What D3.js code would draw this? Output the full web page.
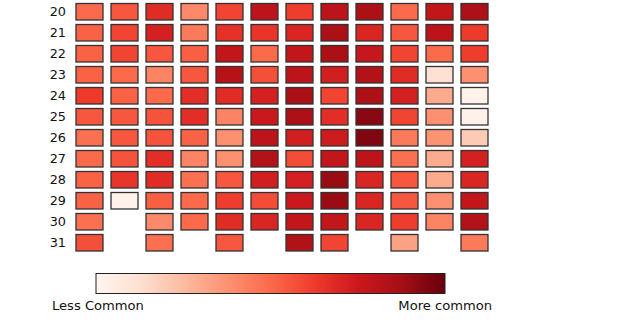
<!DOCTYPE html>
<html><head><meta charset="utf-8">
<script src="https://cdn.jsdelivr.net/npm/d3@7"></script>
<style>body{margin:0;background:#fff}svg{display:block}text{font-family:"DejaVu Sans",sans-serif}</style>
</head><body>
<svg id="c" width="633" height="322"></svg>
<script>
const days = [20,21,22,23,24,25,26,27,28,29,30,31];
const months = ["Jan","Feb","Mar","Apr","May","Jun","Jul","Aug","Sep","Oct","Nov","Dec"];
// frequency (0 = less common, 1 = more common); null = no such date
const d20 = [0.50,0.55,0.68,0.40,0.60,0.80,0.62,0.80,0.85,0.50,0.78,0.85];
const d21 = [0.52,0.60,0.72,0.45,0.66,0.65,0.70,0.86,0.70,0.55,0.80,0.63];
const d22 = [0.52,0.60,0.55,0.53,0.78,0.50,0.78,0.86,0.77,0.60,0.50,0.62];
const d23 = [0.52,0.50,0.42,0.55,0.82,0.57,0.80,0.73,0.83,0.68,0.12,0.38];
const d24 = [0.63,0.52,0.50,0.67,0.68,0.72,0.86,0.60,0.85,0.72,0.30,0.02];
const d25 = [0.55,0.55,0.56,0.67,0.42,0.75,0.85,0.67,0.93,0.60,0.38,0.03];
const d26 = [0.48,0.55,0.56,0.52,0.38,0.80,0.73,0.74,0.95,0.45,0.37,0.20];
const d27 = [0.50,0.56,0.67,0.42,0.38,0.83,0.58,0.78,0.80,0.48,0.30,0.72];
const d28 = [0.52,0.65,0.68,0.48,0.55,0.73,0.72,0.90,0.70,0.55,0.30,0.70];
const d29 = [0.52,0.02,0.53,0.50,0.62,0.58,0.75,0.90,0.70,0.55,0.38,0.78];
const d30 = [0.48,null,0.40,0.50,0.68,0.70,0.78,0.78,0.70,0.62,0.42,0.83];
const d31 = [0.57,null,0.48,null,0.55,null,0.84,0.60,null,0.33,null,0.45];
const rows = [d20,d21,d22,d23,d24,d25,d26,d27,d28,d29,d30,d31];
const legendLabels = ["Less Common","More common"];
const redsStops = ["#fff5f0","#fee0d2","#fcbba1","#fc9272","#fb6a4a","#ef3b2c","#cb181d","#a50f15","#67000d"];

const svg = d3.select("#c");
const x = d3.scaleBand().domain(months).range([76,488]).paddingInner(8/35);
const y = d3.scaleBand().domain(days).range([3.5,251]).paddingInner(4.5/21);
const color = d3.scaleLinear().domain(redsStops.map((_,i)=>i/(redsStops.length-1))).range(redsStops).clamp(true);

const cells = [];
rows.forEach((r,i)=>r.forEach((v,j)=>{ if(v!==null) cells.push({day:days[i],month:months[j],v}); }));

svg.append("g").selectAll("rect").data(cells).join("rect")
  .attr("x",d=>x(d.month)).attr("y",d=>y(d.day))
  .attr("width",x.bandwidth()).attr("height",y.bandwidth())
  .attr("fill",d=>color(d.v)).attr("stroke","#333").attr("stroke-width",1.3);

svg.append("g").selectAll("text").data(days).join("text")
  .attr("x",66).attr("y",d=>y(d)+y.bandwidth()/2).attr("dy","0.36em")
  .attr("text-anchor","end").attr("font-size",12.8).attr("fill","#111").text(d=>d);

// colorbar
const defs = svg.append("defs");
const grad = defs.append("linearGradient").attr("id","g");
redsStops.forEach((c,i)=>grad.append("stop").attr("offset",(i/(redsStops.length-1))*100+"%").attr("stop-color",c));
const cb = d3.scaleLinear().domain([0,1]).range([96,445]);
svg.append("rect").attr("x",cb(0)).attr("y",273.5).attr("width",cb(1)-cb(0)).attr("height",20)
  .attr("fill","url(#g)").attr("stroke","#222").attr("stroke-width",1);
svg.append("text").attr("x",52).attr("y",310).attr("font-size",13.1).attr("fill","#111").text(legendLabels[0]);
svg.append("text").attr("x",492).attr("y",310).attr("text-anchor","end").attr("font-size",13.1).attr("fill","#111").text(legendLabels[1]);
</script>
</body></html>
